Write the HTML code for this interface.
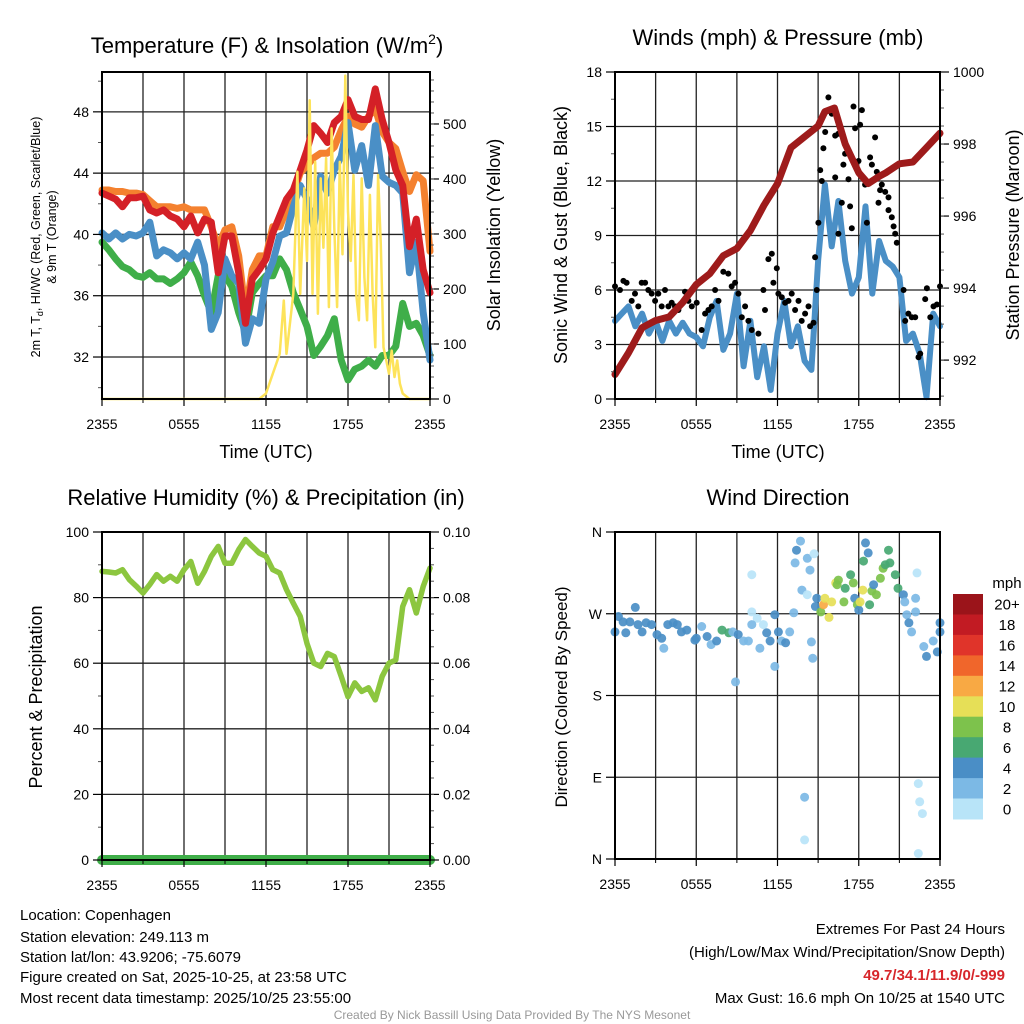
<!DOCTYPE html>
<html><head><meta charset="utf-8"><style>
html,body{margin:0;padding:0;background:#fff;}
svg{display:block;font-family:"Liberation Sans",Arial,sans-serif;}
</style></head><body>
<svg id="fig" width="1024" height="1024" viewBox="0 0 1024 1024">
<rect x="0" y="0" width="1024" height="1024" fill="#fff"/>
<g id="grids"></g>
<g id="series"></g>
<g id="axes"></g>
<text x="267" y="53" font-size="22" text-anchor="middle">Temperature (F) &amp; Insolation (W/m<tspan font-size="14" dy="-9">2</tspan><tspan dy="9">)</tspan></text>
<text x="778" y="45" font-size="22" text-anchor="middle">Winds (mph) &amp; Pressure (mb)</text>
<text x="266" y="505" font-size="22" text-anchor="middle">Relative Humidity (%) &amp; Precipitation (in)</text>
<text x="778" y="505" font-size="22" text-anchor="middle">Wind Direction</text>
<text x="266" y="458" font-size="18" text-anchor="middle">Time (UTC)</text>
<text x="778" y="458" font-size="18" text-anchor="middle">Time (UTC)</text>
<text transform="translate(40,237) rotate(-90)" font-size="12.5" text-anchor="middle">2m T, T<tspan font-size="9" dy="3">d</tspan><tspan dy="-3">, HI/WC (Red, Green, Scarlet/Blue)</tspan></text>
<text transform="translate(56,237) rotate(-90)" font-size="12.5" text-anchor="middle">&amp; 9m T (Orange)</text>
<text transform="translate(500,235) rotate(-90)" font-size="18" text-anchor="middle">Solar Insolation (Yellow)</text>
<text transform="translate(567,235) rotate(-90)" font-size="18" text-anchor="middle">Sonic Wind &amp; Gust (Blue, Black)</text>
<text transform="translate(1019,235) rotate(-90)" font-size="18" text-anchor="middle">Station Pressure (Maroon)</text>
<text transform="translate(42,697) rotate(-90)" font-size="18" text-anchor="middle">Percent &amp; Precipitation</text>
<text transform="translate(567,697) rotate(-90)" font-size="17" text-anchor="middle">Direction (Colored By Speed)</text>
<g font-size="15">
<text x="20" y="920">Location: Copenhagen</text>
<text x="20" y="942">Station elevation: 249.113 m</text>
<text x="20" y="962">Station lat/lon: 43.9206; -75.6079</text>
<text x="20" y="982">Figure created on Sat, 2025-10-25, at 23:58 UTC</text>
<text x="20" y="1003">Most recent data timestamp: 2025/10/25 23:55:00</text>
</g>
<g font-size="15" text-anchor="end">
<text x="1005" y="934">Extremes For Past 24 Hours</text>
<text x="1005" y="957">(High/Low/Max Wind/Precipitation/Snow Depth)</text>
<text x="1005" y="980" fill="#d7262b" font-weight="bold">49.7/34.1/11.9/0/-999</text>
<text x="1005" y="1003">Max Gust: 16.6 mph On 10/25 at 1540 UTC</text>
</g>
<text x="512" y="1019" font-size="12" fill="#999" text-anchor="middle">Created By Nick Bassill Using Data Provided By The NYS Mesonet</text>
</svg>
<script>
// ---------- data ----------
const halfHours = [0,0.5,1,1.5,2,2.5,3,3.5,4,4.5,5,5.5,6,6.5,7,7.5,8,8.5,9,9.5,10,10.5,11,11.5,12,12.5,13,13.5,14,14.5,15,15.5,16,16.5,17,17.5,18,18.5,19,19.5,20,20.5,21,21.5,22,22.5,23,23.5,24];
const xTickLabels = ["2355","0555","1155","1755","2355"];
const tempRed = [42.7,42.5,42.3,41.8,42.4,42.4,42.5,41.6,41.4,41.6,41.2,41.0,40.5,41.2,40.1,41.0,40.8,37.5,39.9,39.9,37.5,34.2,37.1,37.7,38.4,40.1,41.2,42.3,42.9,44.2,45.5,47.1,46.6,46.0,47.3,47.7,48.8,47.7,47.5,47.5,49.5,47.5,46.0,44.2,43.2,39.2,41.0,37.7,36.2];
const tempOrange = [42.9,42.9,42.8,42.8,42.7,42.7,42.6,42.2,41.8,41.8,41.8,41.7,41.8,41.6,41.6,41.6,40.5,39.2,40.3,40.5,38.6,34.9,37.7,38.6,38.6,40.5,40.5,41.6,42.6,44.0,44.5,45.0,45.3,45.3,45.7,46.8,47.7,47.2,47.0,47.7,48.2,46.7,46.0,45.6,44.1,42.8,43.9,43.5,38.9];
const tempBlue = [40.1,39.7,40.1,39.7,40.0,39.9,40.1,40.8,38.6,39.0,38.8,38.4,38.8,38.4,39.5,38.0,33.8,34.9,38.4,37.3,36.8,32.9,34.5,34.2,37.1,38.2,39.9,40.1,41.8,43.2,42.3,40.5,43.8,42.7,44.2,45.1,47.3,44.2,45.8,43.2,47.1,43.8,43.4,43.2,42.7,37.5,39.5,34.9,31.8];
const tempGreen = [39.5,39.0,38.4,37.9,37.7,37.3,37.2,37.5,37.1,37.1,36.8,37.1,37.5,38.2,37.3,36.0,34.9,37.3,37.3,36.6,34.9,33.6,36.2,36.8,37.3,37.3,38.4,37.7,36.2,35.1,34.0,32.1,32.7,33.4,34.5,31.8,30.5,31.2,31.4,31.8,31.4,32.1,32.1,32.7,35.5,34.0,34.2,33.4,32.1];
const solarTimes = [0,11.5,12,12.5,13,13.3,13.5,14,14.3,14.5,14.8,15,15.2,15.4,15.6,15.8,16,16.2,16.4,16.6,16.8,17,17.2,17.4,17.6,17.8,18,18.2,18.4,18.6,18.8,19,19.2,19.4,19.6,19.8,20,20.2,20.4,20.6,20.8,21,21.2,21.4,21.6,21.8,22,22.5,24];
const solarValues = [0,0,10,46,82,179,82,191,413,191,383,251,543,191,431,155,401,275,438,167,492,311,167,431,263,588,341,251,407,191,143,401,221,143,371,191,94,407,281,94,70,46,88,40,70,28,10,0,0];
const windSpeed = [4.3,4.7,5.1,4.0,4.7,3.6,4.3,3.2,4.3,3.6,4.2,3.6,3.4,2.9,4.5,5.4,2.7,3.6,5.8,1.8,4.3,1.2,2.9,0.5,3.6,5.4,2.9,4.0,2.1,1.6,7.6,11.8,8.4,10.9,7.6,5.8,6.7,10.6,5.8,8.7,7.6,7.3,6.7,3.2,3.6,2.5,0.1,4.7,4.0];
const gustTimes = [0,0.37,0.62,0.86,1.23,1.48,1.72,1.97,2.22,2.46,2.71,2.96,3.2,3.45,3.69,3.94,4.19,4.43,4.68,5.17,5.42,5.67,6.03,6.4,6.65,6.9,7.14,7.39,7.64,8.0,8.37,8.62,8.87,9.11,9.36,9.61,9.85,10.1,10.59,10.96,11.08,11.33,11.58,11.7,11.95,12.07,12.32,12.56,12.81,13.05,13.3,13.55,13.79,14.04,14.29,14.41,14.66,14.78,14.9,15.02,15.15,15.27,15.39,15.52,15.76,16.01,16.26,16.26,16.5,16.5,16.75,16.87,16.99,17.24,17.36,17.49,17.61,17.73,17.98,18.1,18.23,18.47,18.6,18.84,18.97,19.21,19.33,19.46,19.58,19.7,19.95,20.2,20.2,20.44,20.57,20.69,20.81,21.31,21.43,21.67,21.92,22.17,22.41,22.54,22.91,23.03,23.28,23.52,23.77,24.0];
const gustValues = [6.2,6.0,6.5,6.4,5.4,5.8,5.1,6.4,6.4,6.0,5.8,5.4,5.8,5.1,6.0,5.1,5.3,5.1,4.9,5.9,5.4,5.1,5.3,3.8,4.7,4.9,5.1,6.0,5.4,7.0,6.9,6.2,6.4,5.8,4.5,5.1,4.3,3.8,3.6,6.0,4.9,7.7,8.0,6.4,7.2,5.8,5.6,5.3,5.4,5.8,4.9,5.4,4.3,4.7,5.1,4.0,4.2,7.8,6.0,9.7,12.6,12.0,13.8,14.7,16.6,15.7,14.5,12.2,14.6,9.1,10.8,12.9,13.5,12.1,10.6,9.4,16.1,14.9,13.1,15.1,15.9,11.8,9.7,13.3,12.9,14.4,12.5,10.8,11.5,11.8,11.4,11.1,10.4,10.0,9.5,9.1,8.6,6.0,4.3,4.7,4.5,4.5,2.3,2.5,5.5,6.1,4.5,5.1,5.2,6.2];
const pressTimes = [0,1,2,3,4,5,6,7,8,9,10,11,12,13,14,15,15.5,16.2,17,18,18.7,19.5,20,21,22,23,24];
const pressValues = [991.6,992.2,992.9,993.1,993.2,993.6,994.1,994.4,994.9,995.1,995.6,996.3,996.9,997.9,998.2,998.5,998.9,999.0,998.0,997.2,996.9,997.1,997.2,997.45,997.5,997.9,998.3];
const rhValues = [88,87.8,87.5,88.5,85.5,83.5,81.4,84,87,85,86.5,85,88.5,91,84.4,88,92.6,95.6,90.5,90.5,94.6,97.7,95.6,93.6,92.6,88.5,87.5,82.4,78.3,74.3,66,60,59,63,62,56,49.8,54,51.4,52.5,48.8,56,60,61,77.3,82.4,75.3,83.4,89];
const precipValues = [0,0,0,0,0,0,0,0,0,0,0,0,0,0,0,0,0,0,0,0,0,0,0,0,0,0,0,0,0,0,0,0,0,0,0,0,0,0,0,0,0,0,0,0,0,0,0,0,0];
const dirTimes = [0,0.25,0.6,0.8,1.1,1.5,1.7,2.0,2.3,2.7,3.1,3.45,3.6,3.9,4.3,4.6,4.9,5.3,5.9,6.0,6.4,6.8,7.1,7.5,7.9,8.4,8.7,8.9,9.1,9.5,9.85,10.1,10.1,10.5,10.1,10.7,10.96,11.2,11.45,11.8,11.8,12.07,12.3,12.6,12.9,13.2,13.3,13.4,13.7,13.8,14.0,14.0,14.2,14.2,14.4,14.5,14.6,14.7,14.8,14.9,15.2,15.4,15.5,15.8,16.0,16.3,16.4,16.5,16.9,17.0,17.4,17.6,17.7,17.9,18.0,18.1,18.3,18.35,18.5,18.7,18.8,18.97,19.1,19.3,19.6,19.8,19.96,20.2,20.3,20.7,20.9,21.3,21.4,21.55,21.7,21.9,22.2,22.2,22.3,22.4,22.5,22.7,22.4,22.8,23.0,23.5,23.8,24.0,24.0];
const dirDegrees = [250,267,261,249,261,277,258,250,260,258,247,243,232,258,260,258,250,252,241,243,256,245,236,240,252,249,250,195,247,240,240,313,272,265,258,232,258,249,240,269,212,250,240,238,250,271,326,340,350,296,68,21,331,291,318,239,221,336,278,287,272,280,287,266,283,304,302,307,283,298,313,304,287,280,274,283,296,328,348,337,280,295,302,291,309,320,324,340,326,313,298,291,283,269,260,250,287,272,315,83,63,50,6,234,223,240,228,260,250];
const dirSpeeds = [5,5,5,5,5,5,5,5,5,5,5,5,3,5,5,5,5,5,5,5,3,5,3,5,7,7,3,3,5,3,3,1,1,1,3,3,1,5,5,5,3,5,3,5,3,3,3,5,3,3,3,1,3,1,3,3,3,1,5,5,9,13,11,11,11,11,9,9,9,7,7,9,5,9,5,11,11,7,5,5,7,9,5,9,9,9,7,7,7,7,7,5,3,3,5,3,3,3,1,1,1,1,1,3,5,3,5,5,5];
const speedBinLabels = ["0","2","4","6","8","10","12","14","16","18","20+"];
const speedBinColors = ["#b8e4f8","#7cb9e5","#4a8ec6","#48a872","#7dc24c","#e6df57","#f8a944","#f0662b","#e0342a","#c21b23","#9b141a"];

// ---------- scales ----------
const NS = "http://www.w3.org/2000/svg";
const gGrid = document.getElementById("grids");
const gSer = document.getElementById("series");
const gAx = document.getElementById("axes");
const P1 = {x0:102,x1:430,y0:72,y1:399};
const P2 = {x0:615,x1:940,y0:72,y1:399};
const P3 = {x0:102,x1:430,y0:532,y1:860};
const P4 = {x0:615,x1:940,y0:532,y1:859};
const xs = P => h => P.x0 + h*(P.x1-P.x0)/24;
const lin = (P,v0,v1) => v => P.y1 - (v-v0)*(P.y1-P.y0)/(v1-v0);
const yTemp = lin(P1,29.26,50.6);
const ySolar = lin(P1,0,594.5);
const yWind = lin(P2,0,18);
const yPress = lin(P2,990.92,1000);
const yRH = lin(P3,0,100);
const yPrecip = lin(P3,0,0.1);
const yDir = lin(P4,0,360);

function mk(tag, attrs, parent){
  const e = document.createElementNS(NS, tag);
  for (const k in attrs) e.setAttribute(k, attrs[k]);
  parent.appendChild(e);
  return e;
}
function seriesPath(ts, vs, X, Y, color, w, name){
  let d = "";
  for (let i=0;i<vs.length;i++) d += (i?"L":"M") + X(ts[i]).toFixed(1) + "," + Y(vs[i]).toFixed(1);
  const p = mk("path", {d:d, fill:"none", stroke:color, "stroke-width":w, "stroke-linejoin":"round", "stroke-linecap":"round"}, gSer);
  
  
}
function hline(P, y){
  const l = mk("line", {x1:P.x0, x2:P.x1, y1:y, y2:y, stroke:"#222", "stroke-width":1.3}, gGrid);
  
  
}
function vgrid(P){
  const X = xs(P);
  for (let h=3; h<24; h+=3){
    const l = mk("line", {x1:X(h), x2:X(h), y1:P.y0, y2:P.y1, stroke:"#222", "stroke-width":1.3}, gGrid);
    
    
  }
}
function frame(P, name){
  const r = mk("rect", {x:P.x0, y:P.y0, width:P.x1-P.x0, height:P.y1-P.y0, fill:"none", stroke:"#000", "stroke-width":2}, gAx);
  
  
}
function xaxis(P){
  const X = xs(P);
  for (let i=0;i<xTickLabels.length;i++){
    const h = i*6;
    const t = mk("line", {x1:X(h), x2:X(h), y1:P.y1, y2:P.y1+7, stroke:"#000", "stroke-width":1.2}, gAx);
    
    
    const tx = mk("text", {x:X(h), y:P.y1+30, "font-size":14, "text-anchor":"middle"}, gAx);
    tx.textContent = xTickLabels[i];
    
    
  }
  for (let h=3; h<24; h+=6){
    const t = mk("line", {x1:X(h), x2:X(h), y1:P.y1, y2:P.y1+4, stroke:"#000", "stroke-width":1}, gAx);
    
    
  }
}
function yaxis(P, Y, majors, labels, minors, side, grid){
  const x = side==="left" ? P.x0 : P.x1;
  const dir = side==="left" ? -1 : 1;
  majors.forEach((v,i)=>{
    const y = Y(v);
    if (grid && y>P.y0+1 && y<P.y1-1) hline(P, y);
    const t = mk("line", {x1:x, x2:x+dir*9, y1:y, y2:y, stroke:"#000", "stroke-width":1.2}, gAx);
    
    
    const tx = mk("text", {x:x+dir*13, y:y+5, "font-size":14, "text-anchor": side==="left"?"end":"start"}, gAx);
    tx.textContent = labels[i];
    
    
  });
  minors.forEach(v=>{
    const y = Y(v);
    const t = mk("line", {x1:x, x2:x+dir*4, y1:y, y2:y, stroke:"#555", "stroke-width":1}, gAx);
    
    
  });
}
function range(a,b,s){const r=[];for(let v=a;v<=b+1e-9;v+=s)r.push(+v.toFixed(4));return r;}

// ---------- panel 1 ----------
vgrid(P1);
yaxis(P1, yTemp, [32,36,40,44,48], ["32","36","40","44","48"], [30,34,38,42,46,50], "left", true);
yaxis(P1, ySolar, [0,100,200,300,400,500], ["0","100","200","300","400","500"], range(20,580,20), "right", false);
seriesPath(halfHours, tempGreen, xs(P1), yTemp, "#3fae49", 7, "hi-wc-green-line");
seriesPath(halfHours, tempOrange, xs(P1), yTemp, "#f4812f", 7, "temp-9m-orange-line");
seriesPath(halfHours, tempBlue, xs(P1), yTemp, "#4a8fc6", 7, "dewpoint-blue-line");
seriesPath(halfHours, tempRed, xs(P1), yTemp, "#d42027", 7, "temp-2m-red-line");
seriesPath(solarTimes, solarValues, xs(P1), ySolar, "#fde35a", 2.5, "solar-yellow-line");
frame(P1, "temperature-plot-frame");
xaxis(P1);

// ---------- panel 2 ----------
vgrid(P2);
yaxis(P2, yWind, [0,3,6,9,12,15,18], ["0","3","6","9","12","15","18"], [1.5,4.5,7.5,10.5,13.5,16.5], "left", true);
yaxis(P2, yPress, [992,994,996,998,1000], ["992","994","996","998","1000"], range(991,999.5,0.5), "right", false);
seriesPath(halfHours, windSpeed, xs(P2), yWind, "#4a8fc6", 6, "wind-speed-blue-line");
const X2 = xs(P2);
for (let i=0;i<gustValues.length;i++){
  const c = mk("circle", {cx:X2(gustTimes[i]).toFixed(1), cy:yWind(gustValues[i]).toFixed(1), r:3, fill:"#000"}, gSer);
  
  
}
seriesPath(pressTimes, pressValues, xs(P2), yPress, "#9e1b1b", 7, "pressure-maroon-line");
frame(P2, "winds-plot-frame");
xaxis(P2);

// ---------- panel 3 ----------
vgrid(P3);
yaxis(P3, yRH, [0,20,40,60,80,100], ["0","20","40","60","80","100"], [10,30,50,70,90], "left", true);
yaxis(P3, yPrecip, [0,0.02,0.04,0.06,0.08,0.1], ["0.00","0.02","0.04","0.06","0.08","0.10"], range(0.005,0.095,0.005), "right", false);
seriesPath(halfHours, rhValues, xs(P3), yRH, "#8cc63f", 5.5, "relative-humidity-line");
seriesPath(halfHours, precipValues, xs(P3), yPrecip, "#3fae49", 10, "precipitation-line");
frame(P3, "humidity-plot-frame");
xaxis(P3);

// ---------- panel 4 ----------
vgrid(P4);
yaxis(P4, yDir, [0,90,180,270,360], ["N","E","S","W","N"], [], "left", true);
const X4 = xs(P4);
for (let i=0;i<dirDegrees.length;i++){
  const bin = Math.min(10, Math.floor(dirSpeeds[i]/2));
  const c = mk("circle", {cx:X4(dirTimes[i]).toFixed(1), cy:yDir(dirDegrees[i]).toFixed(1), r:4.5, fill:speedBinColors[bin], "fill-opacity":0.92}, gSer);
  
  
}
frame(P4, "direction-plot-frame");
xaxis(P4);

// ---------- colorbar ----------
const cbTop = 594, cbH = 225/11;
for (let i=0;i<speedBinColors.length;i++){
  const k = speedBinColors.length-1-i;
  const r = mk("rect", {x:953, y:(cbTop+i*cbH).toFixed(1), width:30, height:(cbH+0.5).toFixed(1), fill:speedBinColors[k]}, gAx);
  
  
  const t = mk("text", {x:1007, y:(cbTop+i*cbH+cbH/2+5.5).toFixed(1), "font-size":15, "text-anchor":"middle"}, gAx);
  t.textContent = speedBinLabels[k];
  
  
}
const mph = mk("text", {x:1007, y:588, "font-size":15, "text-anchor":"middle"}, gAx);
mph.textContent = "mph";


</script>
</body></html>
